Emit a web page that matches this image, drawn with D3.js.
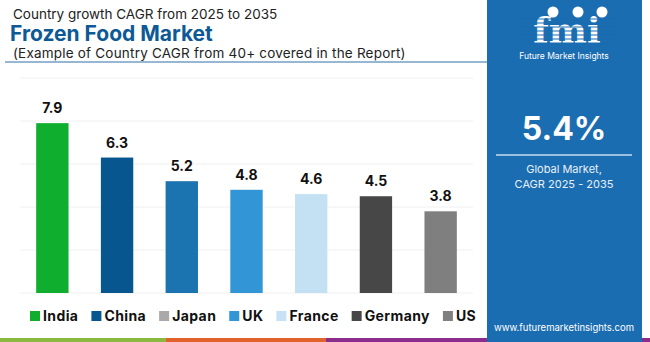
<!DOCTYPE html>
<html>
  <head>
    <title>Frozen Food Market</title>
    <script src="https://d3js.org/d3.v7.min.js"></script>
    <style type="text/css">
      body { margin: 0; padding: 0; background: #fff; }
      svg { display: block; font-family: Inter, "Open Sans", sans-serif; }
    </style>
  </head>
  <body>
    <div id="chart"></div>
    <script>

      // data
      var countries = ["India", "China", "Japan", "UK", "France", "Germany", "US"]
      var cagr = [7.9, 6.3, 5.2, 4.8, 4.6, 4.5, 3.8]
      var barColors = ["#0fae2e", "#07568f", "#1b73b0", "#3195d6", "#c4e1f3", "#474747", "#7f7f7f"]
      var legendColors = ["#0fae2e", "#07568f", "#a9a9a9", "#3195d6", "#c8e1f4", "#474747", "#808080"]
      var yTicks = [0, 2, 4, 6, 8, 10]

      var width = 650
      var height = 342

      var svg = d3.select("#chart")
        .append("svg")
          .attr("width", width)
          .attr("height", height)

      // headings
      svg.append("text")
        .attr("x", 13).attr("y", 18.5)
        .attr("font-size", 13.5).attr("fill", "#222")
        .text("Country growth CAGR from 2025 to 2035")
      svg.append("text")
        .attr("x", 10).attr("y", 41)
        .attr("font-size", 21).attr("font-weight", "bold").attr("fill", "#0d5996")
        .text("Frozen Food Market")
      svg.append("text")
        .attr("x", 13).attr("y", 58)
        .attr("font-size", 13.5).attr("letter-spacing", 0.2).attr("fill", "#222")
        .text("(Example of Country CAGR from 40+ covered in the Report)")
      svg.append("line")
        .attr("x1", 5).attr("x2", 487).attr("y1", 62).attr("y2", 62)
        .attr("stroke", "#2f6fa6").attr("stroke-width", 1)

      // scales
      var x = d3.scaleBand()
        .domain(countries)
        .range([20, 473])
        .paddingInner(0.5)
        .paddingOuter(0.25)

      var y = d3.scaleLinear()
        .domain([0, 8])
        .range([293, 121])

      // gridlines
      svg.append("g")
        .selectAll("line")
        .data(yTicks)
        .enter()
        .append("line")
          .attr("x1", 20).attr("x2", 473)
          .attr("y1", function(d) { return y(d) })
          .attr("y2", function(d) { return y(d) })
          .attr("stroke", "#f0f0f0")
          .attr("stroke-width", 1)

      // bars
      svg.append("g")
        .selectAll("rect")
        .data(countries)
        .enter()
        .append("rect")
          .attr("x", function(d) { return x(d) })
          .attr("width", x.bandwidth())
          .attr("y", function(d, i) { return y(cagr[i]) })
          .attr("height", function(d, i) { return y(0) - y(cagr[i]) })
          .attr("fill", function(d, i) { return barColors[i] })

      // value labels
      svg.append("g")
        .selectAll("text")
        .data(countries)
        .enter()
        .append("text")
          .attr("x", function(d) { return x(d) + x.bandwidth() / 2 })
          .attr("y", function(d, i) { return y(cagr[i]) - 10 })
          .attr("text-anchor", "middle")
          .attr("font-size", 14).attr("font-weight", "bold").attr("fill", "#111")
          .text(function(d, i) { return cagr[i].toFixed(1) })

      // legend, laid out left to right
      var lx = 30
      var legend = svg.append("g")
      countries.forEach(function(c, i) {
        legend.append("rect")
          .attr("x", lx).attr("y", 311)
          .attr("width", 10).attr("height", 10)
          .attr("fill", legendColors[i])
        var t = legend.append("text")
          .attr("x", lx + 13).attr("y", 321)
          .attr("font-size", 14).attr("letter-spacing", 0.4)
          .attr("font-weight", "bold").attr("fill", "#111")
          .text(c)
        lx += 13 + t.node().getComputedTextLength() + 13
      })

      // bottom stripe
      var stripe = [["#8bb93f", 0, 166], ["#e2622b", 166, 326], ["#8a2d8c", 326, 650]]
      svg.selectAll(".stripe")
        .data(stripe)
        .enter()
        .append("rect")
          .attr("class", "stripe")
          .attr("x", function(d) { return d[1] })
          .attr("width", function(d) { return d[2] - d[1] })
          .attr("y", 338).attr("height", 4)
          .attr("fill", function(d) { return d[0] })

      // right side panel
      var panel = svg.append("g")
      panel.append("rect")
        .attr("x", 487).attr("y", 0)
        .attr("width", 155).attr("height", 342)
        .attr("fill", "#1b6db1")

      // logo
      panel.append("text")
        .attr("x", 567).attr("y", 43)
        .attr("text-anchor", "middle")
        .attr("font-family", "DejaVu Serif, serif")
        .attr("font-size", 36).attr("font-weight", "bold")
        .attr("fill", "#fff")
        .text("fmi")
      for (var k = 0; k < 7; k++) {
        panel.append("line")
          .attr("x1", 515).attr("x2", 620)
          .attr("y1", 19 + k * 4).attr("y2", 19 + k * 4)
          .attr("stroke", "#1b6db1").attr("stroke-width", 1)
      }
      ;[[553, 12], [578, 12], [602, 12]].forEach(function(p) {
        panel.append("circle")
          .attr("cx", p[0]).attr("cy", p[1]).attr("r", 5.5)
          .attr("fill", "#fff")
      })
      panel.append("text")
        .attr("x", 564).attr("y", 59)
        .attr("text-anchor", "middle")
        .attr("font-size", 8.5).attr("fill", "#fff")
        .text("Future Market Insights")

      panel.append("text")
        .attr("x", 564).attr("y", 140)
        .attr("text-anchor", "middle")
        .attr("font-size", 32).attr("font-weight", "bold").attr("fill", "#fff")
        .text("5.4%")
      panel.append("line")
        .attr("x1", 496).attr("x2", 632).attr("y1", 155).attr("y2", 155)
        .attr("stroke", "#c9dcef").attr("stroke-width", 1.5)
      panel.append("text")
        .attr("x", 564).attr("y", 173)
        .attr("text-anchor", "middle")
        .attr("font-size", 11).attr("fill", "#e8f0f8")
        .text("Global Market,")
      panel.append("text")
        .attr("x", 564).attr("y", 188)
        .attr("text-anchor", "middle")
        .attr("font-size", 11).attr("fill", "#e8f0f8")
        .text("CAGR 2025 - 2035")
      panel.append("text")
        .attr("x", 564).attr("y", 331)
        .attr("text-anchor", "middle")
        .attr("font-size", 9.5).attr("fill", "#fff")
        .text("www.futuremarketinsights.com")

    </script>
  </body>
</html>
